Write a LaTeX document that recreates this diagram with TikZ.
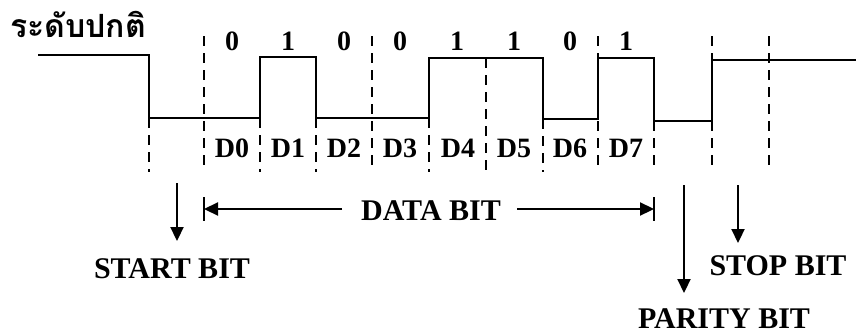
\documentclass[tikz,border=0pt]{standalone}
\usepackage{fontspec}
\setmainfont{Liberation Serif}
\newfontfamily\thaifont[Script=Thai]{Loma}
\usetikzlibrary{arrows.meta}
\begin{document}
\begin{tikzpicture}[x=1pt,y=-1pt,
  sig/.style={line width=2.6pt, line join=miter},
  dsh/.style={line width=2pt, dash pattern=on 10pt off 7pt},
  lbl/.style={font=\bfseries\fontsize{28}{30}\selectfont, inner sep=0pt, anchor=base},
  big/.style={font=\bfseries\fontsize{30}{32}\selectfont, inner sep=0pt, anchor=base},
  arr/.style={line width=2.2pt, -{Triangle[length=14pt,width=13pt]}},
  barline/.style={line width=2.2pt},
]
\useasboundingbox (0,0) rectangle (856,335);
% title
\node[inner sep=0pt, anchor=base west, font=\thaifont\bfseries\fontsize{32}{34}\selectfont] (title) at (10,37) {ระดับปกติ};
% signal
\draw[sig] (38,55) -- (149,55) -- (149,118) -- (260,118) -- (260,57) -- (316,57)
  -- (316,118) -- (429,118) -- (429,58) -- (543,58) -- (543,119) -- (598,119)
  -- (598,58) -- (654,58) -- (654,121) -- (712,121) -- (712,60) -- (856,60);
% dashed full-height lines
\foreach \x in {204,372,598,712,769} \draw[dsh] (\x,36) -- (\x,172);
% dashed partial lines
\foreach \x/\y in {149/118,260/118,316/118,429/118,486/58,543/119,654/121} \draw[dsh] (\x,\y) -- (\x,172);
% bit values
\foreach \n/\x/\v in {0/232/0,1/288/1,2/344/0,3/400/0,4/457/1,5/514/1,6/570/0,7/626/1}
  \node[lbl] (b\n) at (\x,50) {\v};
% data labels
\foreach \n/\x in {0/232,1/288,2/344,3/400,4/458,5/514,6/570,7/626}
  \node[lbl] (d\n) at (\x,157) {D\n};
% bottom labels
\node[big] (start) at (172,278) {START BIT};
\node[big] (data) at (431,220) {DATA BIT};
\node[big] (stop) at (778,275) {STOP BIT};
\node[big] (parity) at (724,328) {PARITY BIT};
% arrows
\coordinate (s1) at (177,183); \coordinate (s2) at (177,241);
\draw[arr] (s1) -- (s2);
\coordinate (dl) at (204,209); \coordinate (dr) at (654,209);
\coordinate (dla) at (342,209); \coordinate (dra) at (517,209);
\draw[arr] (dla) -- (dl);
\draw[arr] (dra) -- (dr);
\draw[barline] (204,197) -- (204,221);
\draw[barline] (654,197) -- (654,221);
\coordinate (p1) at (684,185); \coordinate (p2) at (684,293);
\draw[arr] (p1) -- (p2);
\coordinate (t1) at (738,185); \coordinate (t2) at (738,243);
\draw[arr] (t1) -- (t2);
\end{tikzpicture}
\end{document}
